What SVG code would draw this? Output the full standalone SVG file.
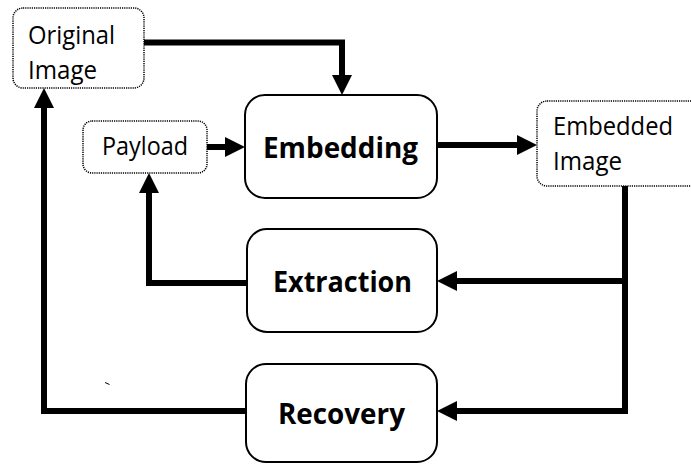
<svg xmlns="http://www.w3.org/2000/svg" width="691" height="465" viewBox="0 0 691 465">
<style>
.proc{fill:#fff;stroke:#000;stroke-width:2}
.data{fill:#fff;stroke:#000;stroke-width:1.5;stroke-dasharray:1.2 1}
.lbl{font-family:"Open Sans","Liberation Sans",sans-serif;font-size:25px;fill:#000}
.big{font-family:"Open Sans","Liberation Sans",sans-serif;font-size:29px;font-weight:bold;fill:#000}
.conn{fill:none;stroke:#000;stroke-width:6;stroke-linejoin:miter}
</style>
<defs>
<marker id="ah" markerUnits="userSpaceOnUse" markerWidth="20" markerHeight="20" refX="1" refY="10" orient="auto">
<path d="M0,0 L20,10 L0,20 z" fill="#000"/>
</marker>
</defs>
<rect width="691" height="465" fill="#fff"/>
<g id="connectors">
<path class="conn" d="M144,42.5 H342 V76" marker-end="url(#ah)"/>
<path class="conn" d="M207,147 H226" marker-end="url(#ah)"/>
<path class="conn" d="M437,145 H518" marker-end="url(#ah)"/>
<path class="conn" d="M625,186 V411 H456" marker-end="url(#ah)"/>
<path class="conn" d="M625,281 H456" marker-end="url(#ah)"/>
<path class="conn" d="M247,283 H149 V192" marker-end="url(#ah)"/>
<path class="conn" d="M246,411 H44 V107" marker-end="url(#ah)"/>
</g>
<g id="original-image">
<rect class="data" x="13" y="8" width="131" height="80" rx="10"/>
<text class="lbl" x="28" y="44" textLength="87" lengthAdjust="spacingAndGlyphs">Original</text>
<text class="lbl" x="28" y="79" textLength="69" lengthAdjust="spacingAndGlyphs">Image</text>
</g>
<g id="payload">
<rect class="data" x="83" y="121" width="124" height="52" rx="9"/>
<text class="lbl" x="102" y="155" textLength="86" lengthAdjust="spacingAndGlyphs">Payload</text>
</g>
<g id="embedding">
<rect class="proc" x="245" y="95" width="192" height="103" rx="20"/>
<text class="big" x="263" y="158" textLength="155" lengthAdjust="spacingAndGlyphs">Embedding</text>
</g>
<g id="embedded-image">
<rect class="data" x="537" y="101" width="170" height="85" rx="10"/>
<text class="lbl" x="553" y="135" textLength="120" lengthAdjust="spacingAndGlyphs">Embedded</text>
<text class="lbl" x="553" y="170" textLength="69" lengthAdjust="spacingAndGlyphs">Image</text>
</g>
<g id="extraction">
<rect class="proc" x="247" y="229" width="190" height="103" rx="20"/>
<text class="big" x="273" y="292" textLength="139" lengthAdjust="spacingAndGlyphs">Extraction</text>
</g>
<g id="recovery">
<rect class="proc" x="246" y="364" width="191" height="98" rx="20"/>
<text class="big" x="278" y="424" textLength="127" lengthAdjust="spacingAndGlyphs">Recovery</text>
</g>
<path d="M105,382.5 L109.5,384.5" stroke="#000" stroke-width="1" fill="none"/>
</svg>
